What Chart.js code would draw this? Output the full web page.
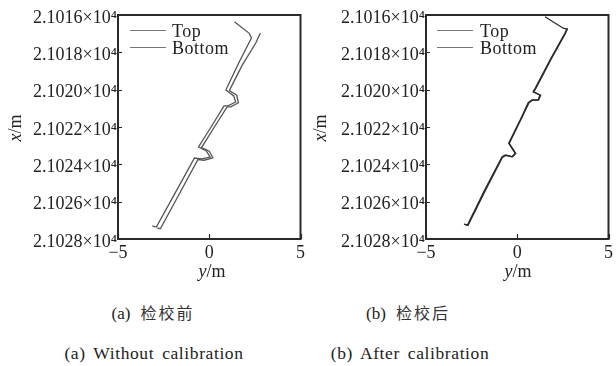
<!DOCTYPE html>
<html><head><meta charset="utf-8">
<script src="https://cdn.jsdelivr.net/npm/chart.js@4"></script>
<style>
body{margin:0;width:616px;height:366px;background:#fff;position:relative;overflow:hidden;font-family:"Liberation Serif","Times New Roman",serif;color:#222}
canvas{position:absolute;top:0}
.t{position:absolute;white-space:nowrap;font-size:18px;line-height:1;transform:translate(-50%,-50%)}
.rot{transform:translate(-50%,-50%) rotate(-90deg)}
.lg{position:absolute;white-space:nowrap;font-size:18px;letter-spacing:0.5px;line-height:1}
.ln{position:absolute;height:0;border-top:1.5px solid #777;width:36px}
.cap{position:absolute;white-space:nowrap;transform:translate(-50%,-50%);line-height:1}
.zh{font-size:17px}
.zh span{font-family:"Noto Sans CJK SC",sans-serif;font-size:16px;letter-spacing:2px;color:#333;margin-left:10px}
.en{font-size:17.5px;letter-spacing:0.6px;word-spacing:3px}
</style></head>
<body>
<canvas id="ca" width="308" height="262" style="left:0"></canvas>
<canvas id="cb" width="308" height="262" style="left:308px"></canvas>

<div class="t rot" style="left:15px;top:128px"><i>x</i>/m</div>
<div class="t" style="left:212px;top:271px"><i>y</i>/m</div>
<div class="t rot" style="left:320px;top:128px"><i>x</i>/m</div>
<div class="t" style="left:518px;top:271px"><i>y</i>/m</div>

<div class="ln" style="left:130px;top:30px"></div><div class="lg" style="left:172px;top:22px">Top</div>
<div class="ln" style="left:130px;top:47px"></div><div class="lg" style="left:172px;top:39px">Bottom</div>
<div class="ln" style="left:437px;top:30px"></div><div class="lg" style="left:480px;top:22px">Top</div>
<div class="ln" style="left:437px;top:47px"></div><div class="lg" style="left:480px;top:39px">Bottom</div>

<div class="cap zh" style="left:153px;top:313px">(a)<span>检校前</span></div>
<div class="cap zh" style="left:408px;top:313px">(b)<span>检校后</span></div>
<div class="cap en" style="left:154px;top:354px">(a) Without calibration</div>
<div class="cap en" style="left:410px;top:354px">(b) After calibration</div>

<script>
// ---- data (y = lateral offset in m, x = along-track coordinate in m) ----
const xTicks = [-5, 0, 5];
const yTicks = [21016, 21018, 21020, 21022, 21024, 21026, 21028];

// (a) Without calibration
const topA_y = [1.38, 2.19, 2.31, 1.60, 0.91, 1.34, 1.45, 1.02, 0.81, 0.10, -0.59, -0.16, 0.05, -0.43, -0.81, -1.85, -2.90, -3.12];
const topA_x = [21016.36, 21016.98, 21017.23, 21018.6, 21020.02, 21020.34, 21020.66, 21020.87, 21020.87, 21022.0, 21023.07, 21023.28, 21023.61, 21023.71, 21023.66, 21025.5, 21027.36, 21027.30];
const botA_y = [2.80, 2.55, 1.80, 1.10, 1.50, 1.60, 1.18, 0.98, 0.28, -0.42, 0.00, 0.20, -0.28, -0.62, -1.65, -2.68, -2.85];
const botA_x = [21016.96, 21017.5, 21018.7, 21020.05, 21020.3, 21020.7, 21020.92, 21020.92, 21022.0, 21023.1, 21023.3, 21023.65, 21023.78, 21023.74, 21025.6, 21027.45, 21027.42];

// (b) After calibration
const topB_y = [1.52, 2.52, 2.72, 2.61, 1.80, 0.98, 0.87, 1.25, 1.14, 0.80, 0.60, 0.16, -0.47, -0.29, -0.11, -0.29, -0.65, -0.83, -1.80, -2.73, -2.92];
const topB_x = [21016.09, 21016.71, 21016.75, 21016.98, 21018.4, 21019.93, 21020.11, 21020.29, 21020.55, 21020.55, 21020.7, 21021.62, 21022.87, 21023.14, 21023.41, 21023.59, 21023.5, 21023.59, 21025.4, 21027.25, 21027.2];
const botB_y = [2.76, 2.64, 1.84, 1.02, 0.90, 1.28, 1.17, 0.83, 0.63, 0.19, -0.44, -0.26, -0.08, -0.26, -0.62, -0.80, -1.76, -2.70, -2.88];
const botB_x = [21016.72, 21016.99, 21018.4, 21019.94, 21020.12, 21020.30, 21020.56, 21020.57, 21020.72, 21021.63, 21022.88, 21023.15, 21023.42, 21023.60, 21023.52, 21023.61, 21025.42, 21027.27, 21027.22];

function pts(ys, xs){ return ys.map((v,i)=>({x:v, y:xs[i]})); }

Chart.defaults.font.family = '"Liberation Serif", "Times New Roman", serif';
Chart.defaults.font.size = 18;
Chart.defaults.color = '#222';

const framePlugin = {
  id:'frame',
  afterDatasetsDraw(chart){
    const {ctx, chartArea:a, scales} = chart;
    ctx.save();
    ctx.strokeStyle = '#2a2a2a';
    ctx.lineWidth = 1.2;
    ctx.beginPath();
    scales.y.ticks.forEach(t=>{
      const p = Math.round(scales.y.getPixelForValue(t.value))+0.5;
      ctx.moveTo(a.left, p); ctx.lineTo(a.left+4, p);
    });
    scales.x.ticks.forEach(t=>{
      const p = Math.round(scales.x.getPixelForValue(t.value))+0.5;
      ctx.moveTo(p, a.bottom); ctx.lineTo(p, a.bottom-5);
    });
    ctx.stroke();
    ctx.lineWidth = 2;
    ctx.strokeRect(a.left, a.top, a.right-a.left, a.bottom-a.top);
    ctx.restore();
  }
};

function make(id, top, bot, color, w){
  return new Chart(document.getElementById(id), {
    type:'scatter',
    data:{datasets:[
      {label:'Top', data:top, showLine:true, borderColor:color, borderWidth:w, pointRadius:0, tension:0},
      {label:'Bottom', data:bot, showLine:true, borderColor:color, borderWidth:w, pointRadius:0, tension:0}
    ]},
    options:{
      responsive:false, animation:false,
      layout:{padding:{top:15, right:4, left:0, bottom:0}},
      plugins:{legend:{display:false}, tooltip:{enabled:false}},
      scales:{
        x:{type:'linear', min:-5, max:5,
           afterBuildTicks(s){ s.ticks = xTicks.map(v=>({value:v})); },
           afterFit(s){ s.height = 23; },
           grid:{display:false, drawTicks:false}, border:{display:false},
           ticks:{padding:3, color:'#222', font:{family:'"Liberation Serif", serif', size:18},
                  maxRotation:0, callback:v=> v<0 ? '\u2212'+Math.abs(v) : String(v)}},
        y:{type:'linear', min:21016, max:21028, reverse:true,
           afterBuildTicks(s){ s.ticks = yTicks.map(v=>({value:v})); },
           afterFit(s){ s.width = 118; },
           grid:{display:false, drawTicks:false}, border:{display:false},
           ticks:{padding:1, labelOffset:3, color:'#222', font:{family:'"Liberation Serif", serif', size:18},
                  callback:v=> (v/1e4).toFixed(4)+'×10\u2074'}}
      }
    },
    plugins:[framePlugin]
  });
}

make('ca', pts(topA_y, topA_x), pts(botA_y, botA_x), '#555', 1.3);
make('cb', pts(topB_y, topB_x), pts(botB_y, botB_x), '#2a2a2a', 1.3);
</script>
</body></html>
